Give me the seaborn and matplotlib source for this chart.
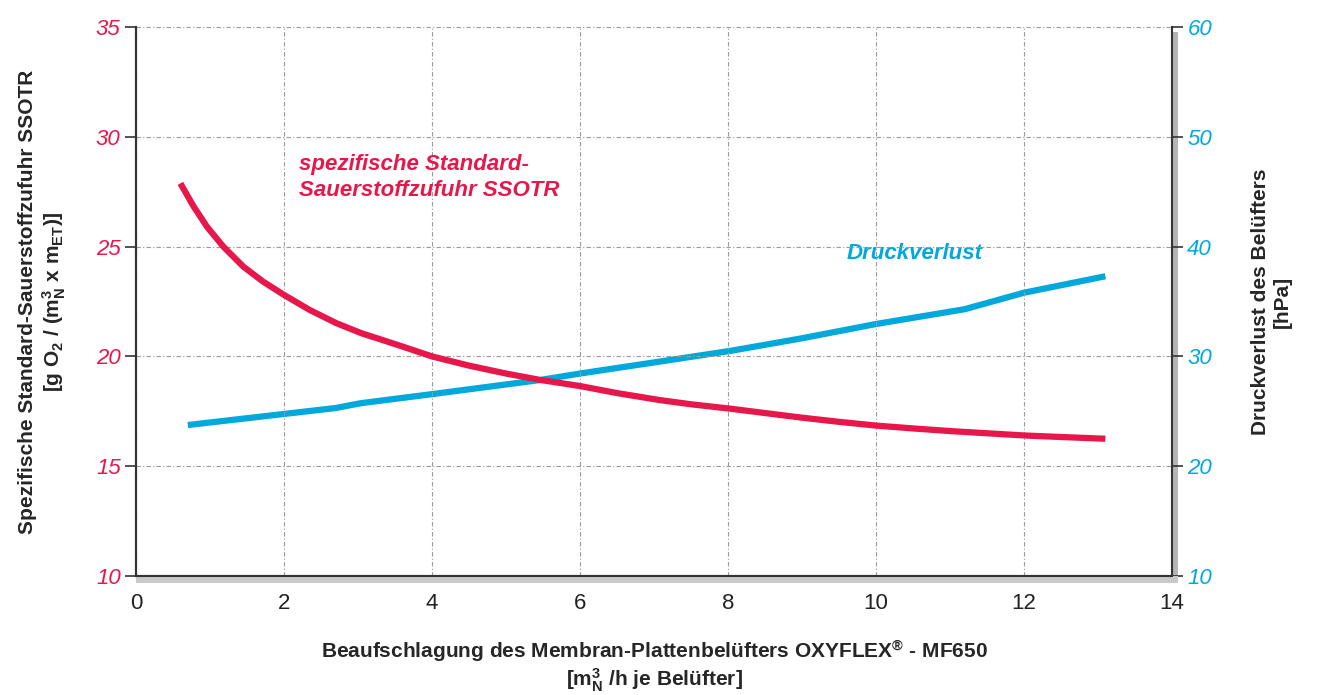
import numpy as np
import pandas as pd
import seaborn as sns
import matplotlib.pyplot as plt
from matplotlib.patches import Rectangle

# SSOTR curve (left axis)
ssotr_x = [0.6, 0.78, 0.96, 1.18, 1.45, 1.72, 2.0, 2.35, 2.71, 3.05, 3.3, 3.6, 4.0, 4.5, 5.0,
           5.46, 6.0, 6.5, 7.08, 7.5, 8.03, 8.5, 9.0, 9.5, 10.0, 10.5, 11.0, 11.5, 12.0, 12.5, 13.1]
ssotr_y = [27.88, 26.82, 25.9, 25.0, 24.09, 23.4, 22.8, 22.11, 21.51, 21.05, 20.78, 20.45, 20.0,
           19.58, 19.22, 18.93, 18.65, 18.33, 18.01, 17.82, 17.62, 17.42, 17.21, 17.02, 16.85,
           16.72, 16.6, 16.5, 16.4, 16.33, 16.25]

# Druckverlust curve (right axis)
druck_x = [0.7, 2.7, 3.03, 4.02, 5.46, 6.02, 7.0, 8.03, 9.0, 10.0, 11.2, 12.0, 13.1]
druck_y = [23.75, 25.3, 25.73, 26.58, 27.85, 28.46, 29.45, 30.5, 31.65, 32.95, 34.3, 35.8, 37.3]

x_ticks = [0, 2, 4, 6, 8, 10, 12, 14]
left_ticks = [10, 15, 20, 25, 30, 35]
right_ticks = [10, 20, 30, 40, 50, 60]

RED = "#e8174b"
BLUE = "#00a8dc"

sns.set_style("white")
plt.rcParams["font.family"] = ["Liberation Sans", "DejaVu Sans"]
plt.rcParams["mathtext.default"] = "regular"

fig = plt.figure(figsize=(13.19, 6.95), dpi=100)
L, B, W, H = 136 / 1319, 1 - 576 / 695, (1172 - 136) / 1319, (576 - 27) / 695
ax = fig.add_axes([L, B, W, H])
ax2 = ax.twinx()

ssotr = pd.DataFrame({"x": ssotr_x, "y": ssotr_y})
druck = pd.DataFrame({"x": druck_x, "y": druck_y})
sns.lineplot(data=ssotr, x="x", y="y", ax=ax, color=RED, lw=4.5, solid_capstyle="butt",
             solid_joinstyle="round")
sns.lineplot(data=druck, x="x", y="y", ax=ax2, color=BLUE, lw=4.5, solid_capstyle="butt",
             solid_joinstyle="round")

ax.set_xlim(0, 14)
ax.set_ylim(10, 35)
ax2.set_ylim(10, 60)
ax.set_xticks(x_ticks)
ax.set_yticks(left_ticks)
ax2.set_yticks(right_ticks)
ax.set_xticklabels([str(t) for t in x_ticks], fontsize=16, color="#222222")
ax.set_yticklabels([str(t) for t in left_ticks], fontsize=16, color=RED, style="italic")
ax2.set_yticklabels([str(t) for t in right_ticks], fontsize=16, color=BLUE, style="italic")

ax.grid(True, color="#9a9a9a", linestyle=(0, (4, 2, 1, 2)), lw=0.8)
ax.tick_params(axis="y", direction="out", length=8, width=1.2, color="#333333", pad=3)
ax.tick_params(axis="x", direction="inout", length=6, width=0.8, color="#333333", pad=9)
ax2.tick_params(axis="y", direction="out", length=8, width=1.2, color="#333333", pad=3)

for a in (ax, ax2):
    a.spines["top"].set_visible(False)
    for s in ("left", "right", "bottom"):
        a.spines[s].set_color("#333333")
        a.spines[s].set_linewidth(1.5)
ax.spines["right"].set_visible(False)

# grey shadow along bottom and right edges
shadow = dict(transform=ax.transAxes, clip_on=False, lw=0, zorder=0)
ax.add_patch(Rectangle((0, -0.012), 1.006, 0.012, facecolor="#c9c9c9", **shadow))
ax2.add_patch(Rectangle((1.0, -0.012), 0.006, 1.002, facecolor="#b5b5b5", **shadow))

ax.set_xlabel("Beaufschlagung des Membran-Plattenbelüfters OXYFLEX$^{®}$ - MF650\n[m$^3_N$ /h je Belüfter]",
              fontsize=15, fontweight="bold", labelpad=18, linespacing=1.1)
ax.set_ylabel("Spezifische Standard-Sauerstoffzufuhr SSOTR\n[g O$_2$ / (m$^3_N$ x m$_{ET}$)]",
              fontsize=15, fontweight="bold", labelpad=20, linespacing=1.2)
ax2.set_ylabel("Druckverlust des Belüfters\n[hPa]", fontsize=15, fontweight="bold",
               labelpad=28, linespacing=1.2)

ax.text(2.2, 29.2, "spezifische Standard-\nSauerstoffzufuhr SSOTR", color=RED, fontsize=16,
        fontweight="bold", style="italic", va="top", ha="left", linespacing=1.3)
ax2.text(9.6, 38.4, "Druckverlust", color=BLUE, fontsize=16, fontweight="bold", style="italic",
         va="bottom", ha="left")

ax.set_zorder(ax2.get_zorder() + 1)
ax.patch.set_visible(False)

fig.savefig("out.png", dpi=100)
